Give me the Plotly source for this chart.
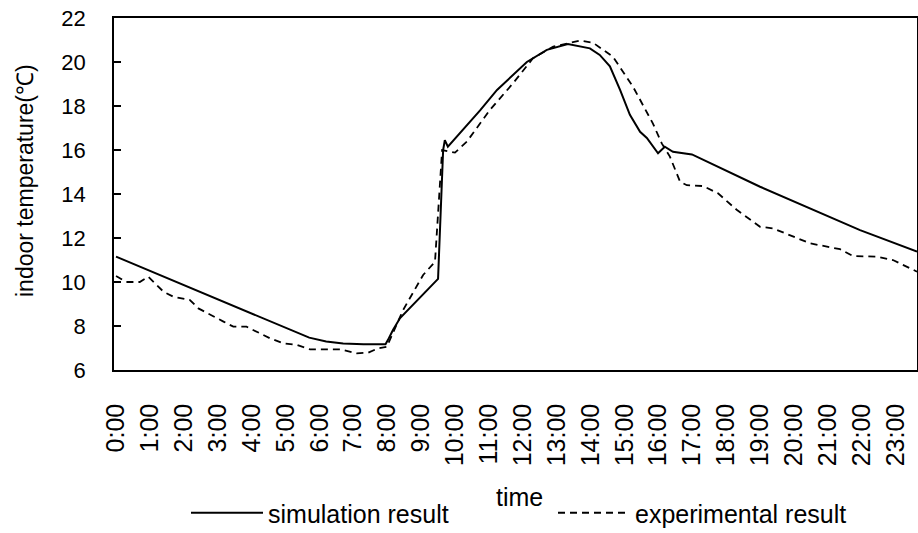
import plotly.graph_objects as go

# time in hours since 0:00
sim_hours = [0, 1, 2, 3, 4, 5, 5.7, 6.2, 6.7, 7.3, 7.95, 8.02, 8.17, 8.38, 8.97, 9.5,
             9.65, 9.7, 9.79, 10.74, 11.24, 12.12, 12.71, 13.33, 13.98, 14.27, 14.57, 14.87,
             15.16, 15.46, 15.66, 15.99, 16.19, 16.43, 16.99, 19.0, 21.95, 23.63]
sim_temp = [11.15, 10.5, 9.86, 9.2, 8.56, 7.92, 7.47, 7.3, 7.2, 7.17, 7.17, 7.36, 7.82, 8.36, 9.32, 10.14,
            16.0, 16.45, 16.15, 17.8, 18.73, 20.0, 20.55, 20.82, 20.62, 20.32, 19.8, 18.73,
            17.6, 16.83, 16.55, 15.85, 16.15, 15.92, 15.8, 14.33, 12.36, 11.38]

exp_hours = [0, 0.3, 0.7, 0.95, 1.4, 1.69, 2.18, 2.43, 3.17, 3.46, 3.85, 4.25, 4.54, 4.94, 5.33,
             5.72, 6.61, 7.1, 7.44, 7.74, 7.99, 8.47, 9.06, 9.41, 9.62, 10.0, 10.35, 11.03,
             11.71, 12.3, 12.9, 13.69, 14.07, 14.66, 15.25, 15.84, 16.1, 16.34, 16.64, 16.84,
             17.32, 17.76, 18.32, 19.0, 19.38, 20.47, 21.36, 21.74, 22.45, 22.92, 23.63]
exp_temp = [10.27, 10.0, 10.0, 10.24, 9.56, 9.33, 9.18, 8.8, 8.2, 7.97, 7.97, 7.67, 7.44, 7.21, 7.14,
            6.94, 6.94, 6.76, 6.79, 6.99, 7.06, 8.73, 10.32, 10.92, 16.0, 15.88, 16.38, 17.82,
            19.03, 20.17, 20.7, 20.97, 20.88, 20.24, 18.88, 17.2, 16.3, 15.7, 14.56, 14.4,
            14.36, 14.03, 13.27, 12.51, 12.44, 11.76, 11.49, 11.18, 11.15, 11.0, 10.47]

tick_hours = list(range(24))
tick_labels = [f"{h}:00" for h in tick_hours]
y_ticks = [6, 8, 10, 12, 14, 16, 18, 20, 22]

FONT = "Liberation Sans, Arial, sans-serif"
W, H = 918, 533

fig = go.Figure()
fig.add_trace(go.Scatter(x=sim_hours, y=sim_temp, mode="lines", name="simulation result",
                         line=dict(color="black", width=2)))
fig.add_trace(go.Scatter(x=exp_hours, y=exp_temp, mode="lines", name="experimental result",
                         line=dict(color="black", width=1.8, dash="7px,5px")))

fig.update_layout(
    width=W, height=H,
    margin=dict(l=114, r=1, t=18, b=163),
    paper_bgcolor="white", plot_bgcolor="white",
    font=dict(family=FONT, color="black"),
    showlegend=True,
    legend=dict(orientation="h", xref="container", yref="container",
                x=186 / W, xanchor="left", y=20 / H, yanchor="middle",
                font=dict(size=25, family=FONT, color="black"),
                itemwidth=72, entrywidth=280, entrywidthmode="pixels",
                bgcolor="rgba(0,0,0,0)"),
    annotations=[
        dict(text="indoor temperature(℃)", xref="paper", yref="paper",
             x=(25 - 114) / (W - 115), y=(H - 163 - 181) / (H - 181),
             xanchor="center", yanchor="middle", textangle=-90, showarrow=False,
             font=dict(size=23, family=FONT, color="black")),
        dict(text="time", xref="paper", yref="paper",
             x=(519 - 114) / (W - 115), y=-(497 - 370) / (H - 181),
             xanchor="center", yanchor="middle", showarrow=False,
             font=dict(size=25, family=FONT, color="black")),
    ],
)
fig.update_xaxes(range=[-0.06, 23.63], tickmode="array", tickvals=tick_hours, ticktext=tick_labels,
                 tickangle=-90, tickfont=dict(size=25), ticks="", showgrid=False, zeroline=False,
                 showline=True, linecolor="black", linewidth=1.5, mirror=True,
                 ticklabelstandoff=22, automargin=False)
fig.update_yaxes(range=[6, 22], tickmode="array", tickvals=y_ticks, tickfont=dict(size=22),
                 ticks="inside", ticklen=7, tickcolor="black", tickwidth=1.5,
                 showgrid=False, zeroline=False,
                 showline=True, linecolor="black", linewidth=1.5, mirror=True,
                 ticklabelstandoff=22, automargin=False)

fig.write_html("out.html", config={"displayModeBar": False},
               post_script="document.body.style.margin='0';")
